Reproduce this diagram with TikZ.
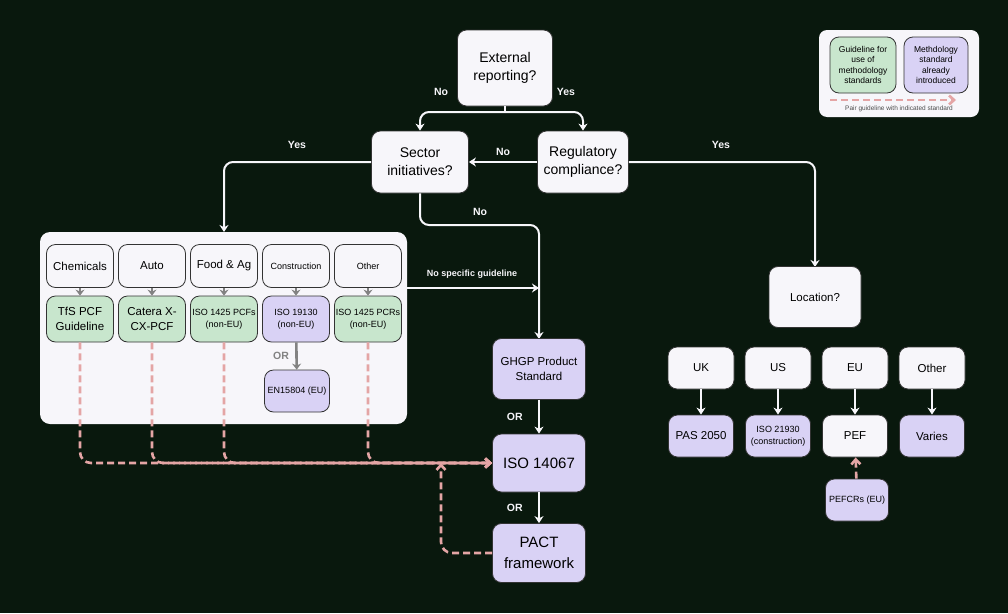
\documentclass[tikz,border=0pt]{standalone}
\usepackage{fontspec}
\setmainfont{Liberation Sans}
\usetikzlibrary{arrows.meta}
\definecolor{bg}{RGB}{9,24,13}
\definecolor{wh}{RGB}{247,246,250}
\definecolor{gr}{RGB}{200,230,205}
\definecolor{pu}{RGB}{217,210,245}
\definecolor{pk}{RGB}{228,165,165}
\definecolor{gy}{RGB}{130,130,130}
\begin{document}
\begin{tikzpicture}[x=1pt,y=-1pt,
  box/.style={draw=black!80,line width=0.8pt,rounded corners=9pt,align=center,inner sep=1pt,font=\fontsize{14}{18}\selectfont},
  w/.style={box,fill=wh},
  g/.style={box,fill=gr},
  p/.style={box,fill=pu},
  sm/.style={font=\fontsize{11.5}{15}\selectfont},
  xs/.style={font=\fontsize{9}{12}\selectfont},
  cat/.style={w,minimum width=67pt,minimum height=43pt,sm},
  gcat/.style={minimum width=67pt,minimum height=46pt},
  wl/.style={draw=wh,line width=2pt,-{Stealth[length=7pt,width=9pt]},rounded corners=9pt},
  gl/.style={draw=gy,line width=2.6pt,-{Stealth[length=6pt,width=9pt]}},
  pl/.style={draw=pk,line width=2.6pt,dash pattern=on 7pt off 4pt,-{Straight Barb[length=5pt,width=9pt]},rounded corners=11pt},
  lab/.style={text=wh,font=\bfseries\fontsize{10.5}{12}\selectfont},
  loc/.style={w,minimum width=66pt,minimum height=42pt,sm}]
\fill[bg] (0,0) rectangle (1008,613);
\useasboundingbox (0,0) rectangle (1008,613);
% top nodes
\node[w,minimum width=95pt,minimum height=76pt] (ext) at (505,68) {External\\reporting?};
\node[w,minimum width=97pt,minimum height=62pt] (sec) at (420,162) {Sector\\initiatives?};
\node[w,minimum width=91pt,minimum height=62pt] (reg) at (583,162) {Regulatory\\compliance?};
% main connectors
\coordinate (split) at (505,112);
\draw[draw=wh,line width=2pt] (ext.south) -- (split);
\draw[wl] (split) -| (sec.north);
\draw[wl] (split) -| (reg.north);
\node[lab] at (441,92) {No};
\node[lab] at (566,92) {Yes};
\draw[wl] (reg) -- (sec) node[lab,midway,above=2pt] {No};
\draw[wl] (sec.west) -| (224,232);
\node[lab] at (297,145) {Yes};
\draw[wl] (reg.east) -| (815,267);
\node[lab] at (721,145) {Yes};
\draw[wl] (sec.south) |- (539,225) -- (539,339);
\node[lab] at (480,212) {No};
\draw[wl] (407,288) -- (539,288);
\node[lab,font=\bfseries\fontsize{9}{10}\selectfont] at (472,274) {No specific guideline};
% big box
\node[fill=wh,rounded corners=10pt,minimum width=367pt,minimum height=192pt,inner sep=0] (bigbox) at (223.5,328) {};
\node[cat] (chem) at (80,266) {Chemicals};
\node[cat] (auto) at (152,266) {Auto};
\node[cat] (food) at (224,266) {Food \& Ag};
\node[cat,xs] (cons) at (296,266) {Construction};
\node[cat,xs] (oth) at (368,266) {Other};
\node[g,gcat,sm] (tfs) at (80,319) {TfS PCF\\Guideline};
\node[g,gcat,sm] (cat) at (152,319) {Catera X-\\CX-PCF};
\node[g,gcat,xs] (iso1425a) at (224,319) {ISO 1425 PCFs\\(non-EU)};
\node[p,gcat,xs] (iso19130) at (296,319) {ISO 19130\\(non-EU)};
\node[g,gcat,xs] (iso1425b) at (368,319) {ISO 1425 PCRs\\(non-EU)};
\node[p,minimum width=65pt,minimum height=42pt,xs] (en) at (297,391) {EN15804 (EU)};
\foreach \a/\b in {chem/tfs,auto/cat,food/iso1425a,cons/iso19130,oth/iso1425b,iso19130/en} \draw[gl] (\a) -- (\b);
\node[text=gy,font=\bfseries\fontsize{10.5}{12}\selectfont] at (281,356) {OR};
% right column
\node[p,minimum width=93pt,minimum height=61pt,sm] (ghgp) at (539,369) {GHGP Product\\Standard};
\node[p,minimum width=93pt,minimum height=58pt,font=\fontsize{15}{18}\selectfont] (iso) at (539,463) {ISO 14067};
\node[p,minimum width=93pt,minimum height=59pt,font=\fontsize{15}{21}\selectfont] (pact) at (539,553) {PACT\\framework};
\draw[wl] (ghgp) -- (iso) node[lab,midway,left=12pt] {OR};
\draw[wl] (iso) -- (pact) node[lab,midway,left=12pt] {OR};
% location
\node[w,minimum width=92pt,minimum height=61pt,sm] (loc) at (815,297) {Location?};
\node[loc] (uk) at (701,368) {UK};
\node[loc] (us) at (778,368) {US};
\node[loc] (eu) at (855,368) {EU};
\node[loc] (other) at (932,368) {Other};
\node[p,minimum width=65pt,minimum height=42pt,sm] (pas) at (701,436) {PAS 2050};
\node[p,minimum width=65pt,minimum height=42pt,xs] (iso21930) at (778,436) {ISO 21930\\(construction)};
\node[w,minimum width=65pt,minimum height=42pt,sm] (pef) at (855,436) {PEF};
\node[p,minimum width=65pt,minimum height=42pt,sm] (var) at (932,436) {Varies};
\node[p,minimum width=63pt,minimum height=42pt,xs] (pefcr) at (857,500) {PEFCRs (EU)};
\foreach \a/\b in {uk/pas,us/iso21930,eu/pef,other/var} \draw[wl] (\a) -- (\b);
\draw[pl] (pefcr) -- (pef);
% pink dashed
\coordinate (j) at (441,463);
\foreach \s in {tfs,cat,iso1425a,iso1425b} \draw[pl] (\s.south) |- (iso.west);
\draw[pl] (pact.west) -| (j);
% legend
\node[fill=wh,rounded corners=8pt,minimum width=160pt,minimum height=87pt,inner sep=0] (leg) at (899,73.5) {};
\node[g,minimum width=66pt,minimum height=56pt,font=\fontsize{8.5}{10.5}\selectfont] (lg) at (863,65) {Guideline for\\use of\\methodology\\standards};
\node[p,minimum width=64pt,minimum height=56pt,font=\fontsize{8.5}{10.5}\selectfont] (lp) at (936,65) {Methdology\\standard\\already\\introduced};
\coordinate (la) at (830,100);
\coordinate (lb) at (956,100);
\draw[pl] (la) -- (lb);
\node[font=\fontsize{6.5}{8}\selectfont,text=black!70] at (899,109) {Pair guideline with indicated standard};
\end{tikzpicture}
\end{document}
